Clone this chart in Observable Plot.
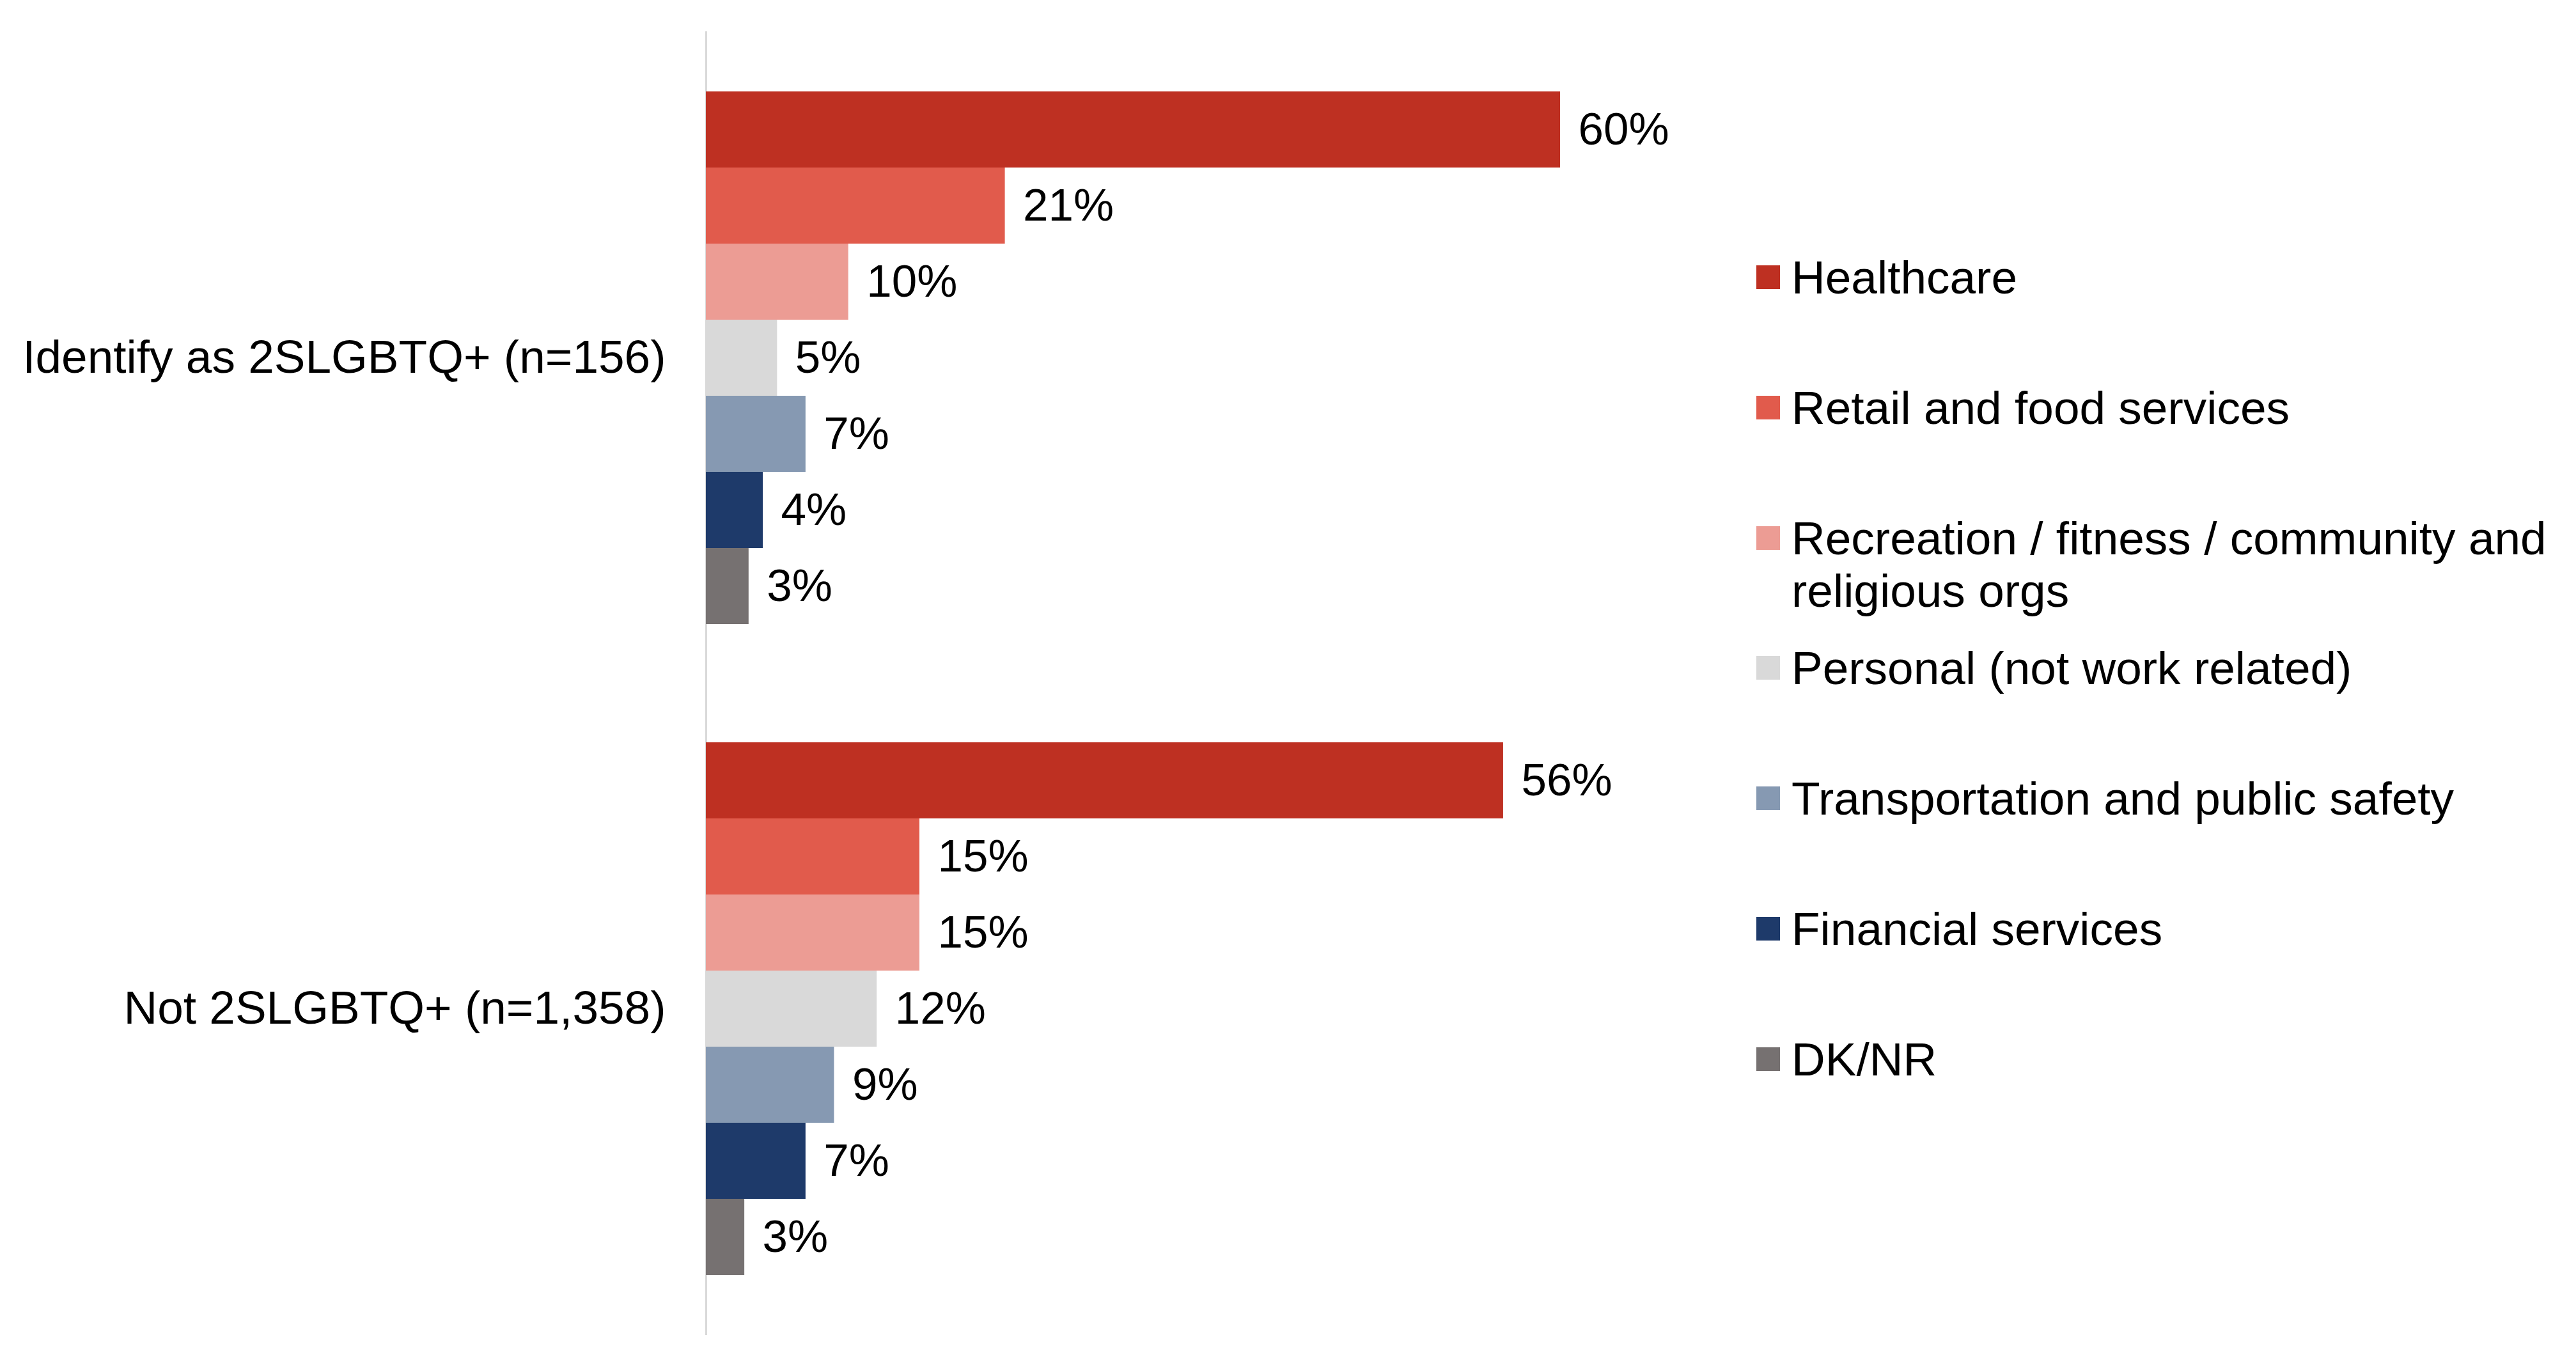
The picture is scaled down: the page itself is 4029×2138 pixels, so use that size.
<!DOCTYPE html>
<html>
<head>
<meta charset="utf-8">
<script src="https://cdn.jsdelivr.net/npm/d3@7"></script>
<script src="https://cdn.jsdelivr.net/npm/@observablehq/plot@0.6"></script>
<style>
  html, body { margin: 0; padding: 0; background: #fff; }
  #wrap { position: relative; width: 4029px; height: 2138px; overflow: hidden; font-family: "Liberation Sans", Arial, sans-serif; }
  #chart { position: absolute; left: 0; top: 0; }
  #legend { position: absolute; left: 2747px; top: 393px; width: 1282px; }
  .row { display: flex; align-items: flex-start; height: 203.8px; }
  .sw { width: 37px; height: 37px; margin-top: 22px; flex: none; }
  .lab { margin-left: 18px; font-size: 73px; line-height: 82px; color: #000; width: 1215px; }
</style>
</head>
<body>
<div id="wrap">
  <div id="chart"></div>
  <div id="legend"></div>
</div>
<script>
const groups = ["Identify as 2SLGBTQ+ (n=156)", "Not 2SLGBTQ+ (n=1,358)"];
const series = [
  "Healthcare",
  "Retail and food services",
  "Recreation / fitness / community and religious orgs",
  "Personal (not work related)",
  "Transportation and public safety",
  "Financial services",
  "DK/NR"
];
const identifyValues = [60, 21, 10, 5, 7, 4, 3];
const notValues = [56, 15, 15, 12, 9, 7, 2.7];
const colors = ["#BE3022", "#E15B4C", "#EC9C94", "#D9D9D9", "#8699B2", "#1E3A6A", "#767171"];

const data = [];
series.forEach((s, i) => data.push({group: groups[0], series: s, value: identifyValues[i]}));
series.forEach((s, i) => data.push({group: groups[1], series: s, value: notValues[i]}));

const chart = Plot.plot({
  width: 2740,
  height: 2138,
  marginLeft: 1104,
  marginRight: 300,
  marginTop: 50,
  marginBottom: 52,
  style: {fontFamily: "'Liberation Sans', Arial, sans-serif", background: "white"},
  x: {domain: [0, 60], axis: null},
  y: {domain: series, paddingInner: 0, paddingOuter: 0.7466, axis: null},
  fy: {domain: groups, padding: 0, label: null, axis: null},
  color: {domain: series, range: colors},
  marks: [
    Plot.frame({anchor: "left", stroke: "#D9D9D9", strokeWidth: 3}),
    Plot.barX(data, {x: "value", y: "series", fy: "group", fill: "series"}),
    Plot.text(data, {x: "value", y: "series", fy: "group", text: d => Math.round(d.value) + "%", textAnchor: "start", dx: 28, fontSize: 71, fill: "#000"}),
    Plot.axisFy({anchor: "left", tickSize: 0, tickPadding: 63, fontSize: 73, fill: "#000", label: null})
  ]
});
document.getElementById("chart").appendChild(chart);

const legend = document.getElementById("legend");
series.forEach((s, i) => {
  const row = document.createElement("div");
  row.className = "row";
  const sw = document.createElement("div");
  sw.className = "sw";
  sw.style.background = chart.scale("color").apply(s);
  const lab = document.createElement("div");
  lab.className = "lab";
  lab.textContent = s;
  row.appendChild(sw);
  row.appendChild(lab);
  legend.appendChild(row);
});
</script>
</body>
</html>
